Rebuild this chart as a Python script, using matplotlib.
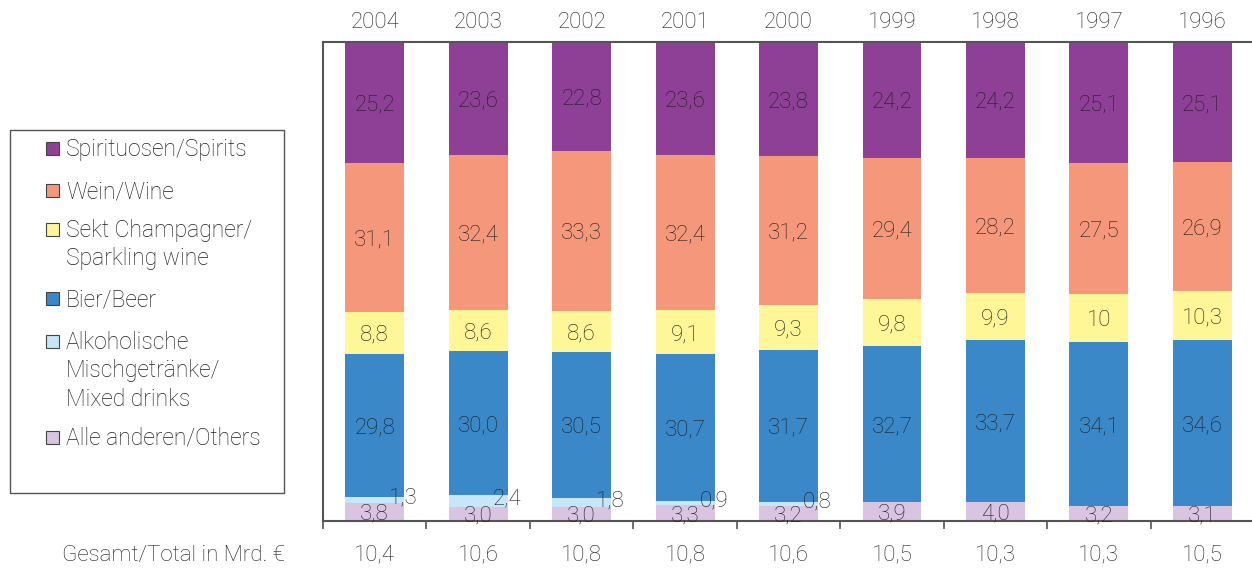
import numpy as np
import matplotlib
matplotlib.use("Agg")
import matplotlib.pyplot as plt
from matplotlib.patches import Rectangle
from matplotlib.transforms import blended_transform_factory, offset_copy

plt.rcParams['font.family'] = ['Roboto', 'DejaVu Sans']
plt.rcParams['font.weight'] = 'light'

# Daten (Anteile in %), von unten nach oben gestapelt
years = ["2004", "2003", "2002", "2001", "2000", "1999", "1998", "1997", "1996"]
totals = ["10,4", "10,6", "10,8", "10,8", "10,6", "10,5", "10,3", "10,3", "10,5"]
others = [3.8, 3.0, 3.0, 3.3, 3.2, 3.9, 4.0, 3.2, 3.1]
mixed = [1.3, 2.4, 1.8, 0.9, 0.8, 0, 0, 0, 0]
beer = [29.8, 30.0, 30.5, 30.7, 31.7, 32.7, 33.7, 34.1, 34.6]
sekt = [8.8, 8.6, 8.6, 9.1, 9.3, 9.8, 9.9, 10, 10.3]
wine = [31.1, 32.4, 33.3, 32.4, 31.2, 29.4, 28.2, 27.5, 26.9]
spirits = [25.2, 23.6, 22.8, 23.6, 23.8, 24.2, 24.2, 25.1, 25.1]

series = [others, mixed, beer, sekt, wine, spirits]
colors = ["#d9c4e1", "#c6e7f8", "#3a88c7", "#fef697", "#f4977a", "#8e3f96"]
legend_labels = ["Spirituosen/Spirits", "Wein/Wine",
                 "Sekt Champagner/\nSparkling wine", "Bier/Beer",
                 "Alkoholische\nMischgetränke/\nMixed drinks",
                 "Alle anderen/Others"]

W, H = 1252, 571
fig = plt.figure(figsize=(W / 100, H / 100), dpi=100)
ax = fig.add_axes([323 / W, 50 / H, (W - 323) / W, 479 / H])

txt = "#1f1f1f"
line = "#555555"
fs = 16

def fmt(v):
    s = ("%.1f" % v).replace(".", ",")
    if v == 10:
        s = "10"
    return s

# Beschriftungen etwas nach unten versetzt (Ziffern ohne Unterlänge)
lab_tr = offset_copy(ax.transData, fig=fig, x=0, y=-2.5, units="dots")

x = np.arange(len(years))
bottom = np.zeros(len(years))
for k, (vals, c) in enumerate(zip(series, colors)):
    vals = np.array(vals, dtype=float)
    ax.bar(x, vals, bottom=bottom, width=0.57, color=c, linewidth=0)
    for i, v in enumerate(vals):
        if v <= 0:
            continue
        yc = bottom[i] + v / 2
        if k == 1:
            # kleine Werte rechts neben den Balken
            ax.text(x[i] + 0.14, yc + 0.9, fmt(v), ha="left", va="center",
                    fontsize=fs, color=txt, transform=lab_tr)
        else:
            ax.text(x[i], yc, fmt(v), ha="center", va="center",
                    fontsize=fs, color=txt, transform=lab_tr)
    bottom += vals

ax.set_xlim(-0.5, 8.48)
ax.set_ylim(0, 100)
ax.spines["right"].set_visible(False)
for s in ["left", "top", "bottom"]:
    ax.spines[s].set_color(line)
    ax.spines[s].set_linewidth(1.5)
ax.set_yticks([])
ax.set_xticks(np.arange(-0.5, 8.5, 1.0))
ax.set_xticklabels([])
ax.tick_params(axis="x", direction="out", length=6, width=1.2, color=line)

trans = blended_transform_factory(ax.transData, ax.transAxes)
for i in range(len(years)):
    ax.text(x[i], 1.040, years[i], transform=trans, ha="center", va="center",
            fontsize=fs, color=txt)
    ax.text(x[i], -0.071, totals[i], transform=trans, ha="center", va="center",
            fontsize=fs, color=txt)

fig.text(285 / W, 1 - 555 / H, "Gesamt/Total in Mrd. €", ha="right",
         va="center", fontsize=fs, color=txt)

# Legende
fig.patches.append(Rectangle((10 / W, 1 - 493 / H), 274 / W, 363 / H,
                             transform=fig.transFigure, fill=False,
                             edgecolor=line, linewidth=1.0))
leg_y = [148, 190, 229, 298, 341, 437]
leg_colors = colors[::-1]
for lab, yy, c in zip(legend_labels, leg_y, leg_colors):
    fig.patches.append(Rectangle((46 / W, 1 - (yy + 7) / H), 13 / W, 13 / H,
                                 transform=fig.transFigure, facecolor=c,
                                 edgecolor="#444444", linewidth=0.8))
    fig.text(66 / W, 1 - (yy - 10) / H, lab, ha="left", va="top",
             fontsize=16.5, color=txt, linespacing=1.3)

fig.savefig("out.png", dpi=100)
